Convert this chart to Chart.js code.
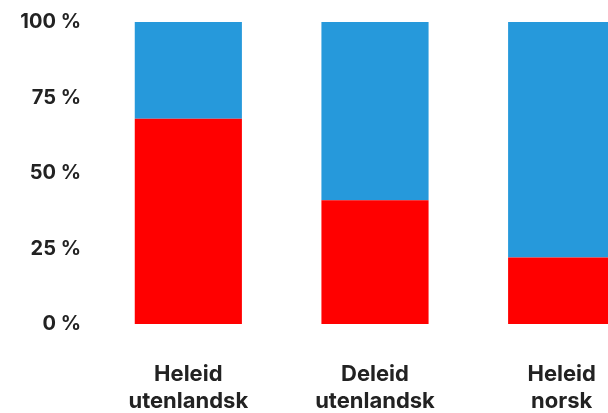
<!DOCTYPE html>
<html>
<head>
<meta charset="utf-8">
<script src="https://cdn.jsdelivr.net/npm/chart.js@4/dist/chart.umd.min.js"></script>
<style>
  html, body { margin: 0; padding: 0; background: #fff; overflow: hidden; width: 608px; height: 413px; }
  canvas { display: block; }
</style>
</head>
<body>
<canvas id="chart" width="655" height="413"></canvas>
<script>
    // Categories and values (percent)
    const categories = [['Heleid', 'utenlandsk'], ['Deleid', 'utenlandsk'], ['Heleid', 'norsk']];
    const redValues = [68, 41, 22];
    const blueValues = [32, 59, 78];
    const yTicks = [0, 25, 50, 75, 100];

    const textColor = '#222222';
    const fontFamily = 'Inter, "Noto Sans", sans-serif';

    new Chart(document.getElementById('chart'), {
        type: 'bar',
        data: {
            labels: categories,
            datasets: [{
                label: 'Rød',
                data: redValues,
                backgroundColor: '#ff0000',
                barPercentage: 0.574,
                categoryPercentage: 1
            }, {
                label: 'Blå',
                data: blueValues,
                backgroundColor: '#2699db',
                barPercentage: 0.574,
                categoryPercentage: 1
            }]
        },
        options: {
            responsive: false,
            animation: false,
            layout: { padding: { top: 22, right: 0, bottom: 0, left: 0 } },
            plugins: {
                legend: { display: false },
                tooltip: { enabled: false }
            },
            scales: {
                x: {
                    stacked: true,
                    grid: { display: false, drawTicks: false },
                    border: { display: false },
                    ticks: {
                        color: textColor,
                        padding: 37,
                        font: { family: fontFamily, size: 22, weight: 'bold', lineHeight: 1.23 },
                        maxRotation: 0
                    },
                    afterFit: function (scale) {
                        scale.height = 89;
                        scale.paddingLeft = 0;
                        scale.paddingRight = 0;
                    }
                },
                y: {
                    stacked: true,
                    min: 0,
                    max: 100,
                    grid: { display: false, drawTicks: false },
                    border: { display: false },
                    afterBuildTicks: function (scale) {
                        scale.ticks = yTicks.map(v => ({ value: v }));
                    },
                    ticks: {
                        color: textColor,
                        padding: 14,
                        font: { family: fontFamily, size: 20, weight: 'bold' },
                        callback: function (v) { return v + ' %'; }
                    },
                    afterFit: function (scale) {
                        scale.width = 95;
                        scale.paddingTop = 0;
                        scale.paddingBottom = 0;
                    }
                }
            }
        }
    });
</script>
</body>
</html>
